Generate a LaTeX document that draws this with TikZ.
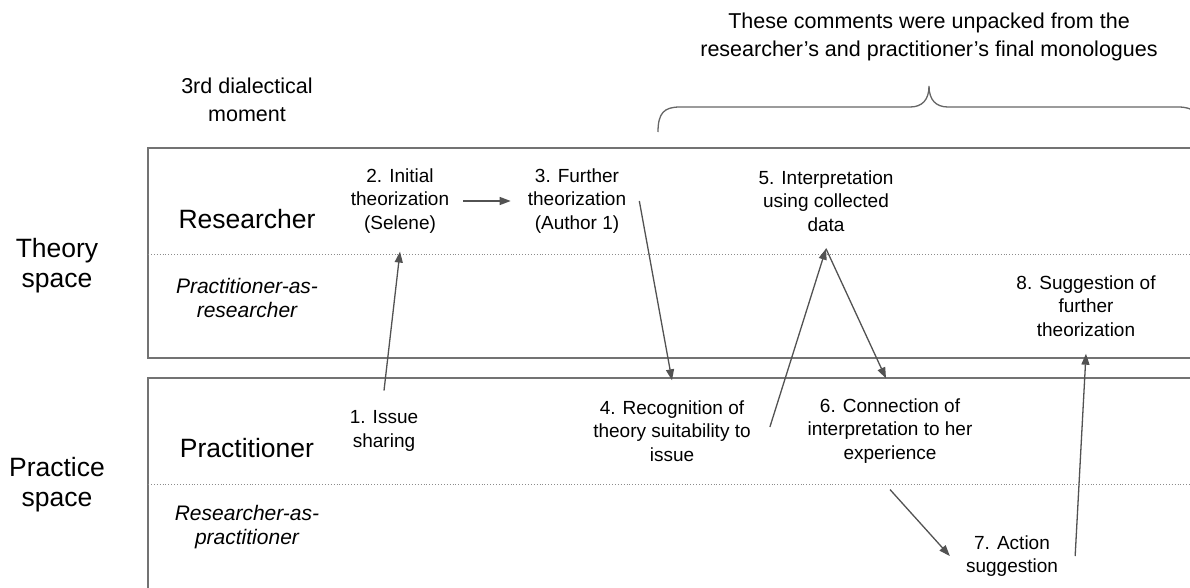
\documentclass[tikz,border=0pt]{standalone}
\usepackage{fontspec}
\setmainfont{Liberation Sans}
\usetikzlibrary{arrows.meta, positioning}

\begin{document}
\begin{tikzpicture}[x = 1pt, y = -1pt,
		note/.style = {align = center, inner sep = 2pt, font = \fontsize{19}{23.5}\selectfont},
		role/.style = {align = center, inner sep = 2pt, font = \fontsize{26.5}{30}\selectfont},
		asrole/.style = {align = center, inner sep = 2pt, font = \fontsize{21}{23.5}\selectfont\itshape},
		top/.style = {align = center, inner sep = 2pt, font = \fontsize{21.5}{28}\selectfont},
		flow/.style = {draw = black!68, line width = 1.3pt, -{Triangle[length = 11pt, width = 8pt]}},
		spacebox/.style = {draw = black!55, line width = 1.6pt},
		divider/.style = {draw = black!45, line width = 0.9pt, dotted}]
				\useasboundingbox (0,0) rectangle (1190,587);
				\clip (0,0) rectangle (1190,587);
				
				\draw[spacebox] (148,148) rectangle (1210,358);
				\draw[spacebox] (148,378) rectangle (1210,610);
				\draw[divider] (148,254) -- (1190,254);
				\draw[divider] (148,484) -- (1190,484);
				
				\node[role] (theory) at (57,266) {Theory\\space};
				\node[role] (practice) at (57,485) {Practice\\space};
				\node[role] (researcher) at (247,219) {Researcher};
				\node[role] (practitioner) at (247,448) {Practitioner};
				\node[asrole] (pasr) at (247,298) {Practitioner-as-\\researcher};
				\node[asrole] (rasp) at (247,527) {Researcher-as-\\practitioner};
				\node[top] (moment) at (247,100) {3rd dialectical\\moment};
				\node[top] (comments) at (929,37) {These comments were unpacked from the\\researcher’s and practitioner’s final monologues};
				
				\node[note] (issue) at (384,431) {1. Issue\\sharing};
				\node[note] (initial) at (400,201) {2. Initial\\theorization\\(Selene)};
				\node[note] (further) at (577,201) {3. Further\\theorization\\(Author 1)};
				\node[note] (recog) at (672,431) {4. Recognition of\\theory suitability to\\issue};
				\node[note] (interp) at (826,201) {5. Interpretation\\using collected\\data};
				\node[note] (connect) at (890,431) {6. Connection of\\interpretation to her\\experience};
				\node[note] (action) at (1012,556) {7. Action\\suggestion};
				\node[note] (suggest) at (1086,306) {8. Suggestion of\\further\\theorization};
				
				% brace over the monologue steps
				\draw[draw = black!60, line width = 1.3pt] (658,132) .. controls (658,113) and (664,107) .. (680,107) -- (910,107)
					.. controls (922,107) and (929,100) .. (929,86) .. controls (929,100) and (936,107) .. (948,107)
					-- (1178,107) .. controls (1194,107) and (1200,113) .. (1200,132);
				
				\draw[flow] ([yshift = 18pt]issue.north) -- ([yshift = -16pt]initial.south);
				\draw[flow] ([xshift = 12pt]initial.east) -- ([xshift = -15pt]further.west);
				\draw[flow] ([xshift = 11pt]further.east) -- ([yshift = 18pt]recog.north);
				\draw[flow] ([shift = {(17pt,4pt)}]recog.east) -- ([yshift = -15pt]interp.south);
				\draw[flow] ([yshift = -15pt]interp.south) -- ([shift = {(-4pt,18pt)}]connect.north);
				\draw[flow] ([yshift = -24pt]connect.south) -- ([xshift = -14pt]action.west);
				\draw[flow] ([xshift = 15pt]action.east) -- ([yshift = -15pt]suggest.south);
			\end{tikzpicture}
\end{document}
